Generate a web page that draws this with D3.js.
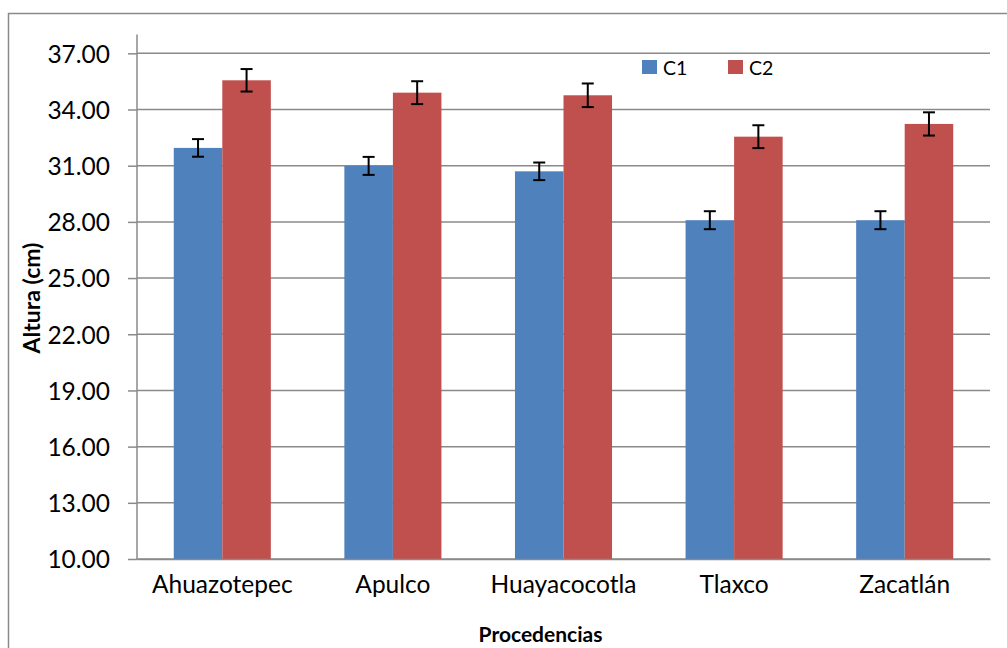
<!DOCTYPE html>
<html>
<head>
<meta charset="utf-8">
<script src="https://cdn.jsdelivr.net/npm/d3@7"></script>
<style>
  html, body { margin: 0; padding: 0; background: #fff; }
  svg { display: block; font-family: Lato, "Open Sans", sans-serif; }
</style>
</head>
<body>
<svg id="chart" width="1007" height="648"></svg>
<script>
const categories = ["Ahuazotepec", "Apulco", "Huayacocotla", "Tlaxco", "Zacatlán"];
const seriesNames = ["C1", "C2"];
const c1Values = [31.95, 30.99, 30.70, 28.09, 28.09];
const c2Values = [35.56, 34.90, 34.76, 32.55, 33.23];
const c1Errors = [0.47, 0.48, 0.47, 0.48, 0.48];
const c2Errors = [0.60, 0.61, 0.63, 0.61, 0.62];
const yTicks = [10, 13, 16, 19, 22, 25, 28, 31, 34, 37];

const colors = { C1: "#4F81BD", C2: "#C0504D" };
const gridColor = "#8a8a8a";
const font = "Lato, 'Open Sans', sans-serif";

const svg = d3.select("#chart");
const width = +svg.attr("width");
const height = +svg.attr("height");
const margin = { top: 34.6, right: 17, bottom: 89, left: 137 };
const innerW = width - margin.left - margin.right;
const innerH = height - margin.top - margin.bottom;

// outer chart border (runs off the right and bottom of the picture)
svg.append("path")
  .attr("d", `M8.5,${height}V13.5H${width}`)
  .attr("fill", "none")
  .attr("stroke", gridColor)
  .attr("stroke-width", 1.5);

const g = svg.append("g").attr("transform", `translate(${margin.left},${margin.top})`);

const rows = categories.map((cat, i) => ({
  cat,
  values: [
    { key: "C1", value: c1Values[i], err: c1Errors[i] },
    { key: "C2", value: c2Values[i], err: c2Errors[i] }
  ]
}));

const x0 = d3.scaleBand().domain(categories).range([0, innerW])
  .paddingInner(0.431).paddingOuter(0.2155);
const x1 = d3.scaleBand().domain(seriesNames).range([0, x0.bandwidth()]);
const y = d3.scaleLinear().domain([10, 38]).range([innerH, 0]);

// gridlines
g.append("g")
  .selectAll("line")
  .data(yTicks)
  .enter().append("line")
  .attr("x1", 0).attr("x2", innerW)
  .attr("y1", d => y(d)).attr("y2", d => y(d))
  .attr("stroke", gridColor)
  .attr("stroke-width", 1.5);

// y axis
const yAxis = g.append("g")
  .call(d3.axisLeft(y).tickValues(yTicks).tickSize(9).tickPadding(18).tickFormat(d3.format(".2f")))
  .attr("font-family", font);
yAxis.select(".domain").attr("stroke", gridColor).attr("stroke-width", 1.5).attr("d", `M-0,0V${innerH}`);
yAxis.selectAll(".tick line").attr("stroke", gridColor).attr("stroke-width", 1.5);
yAxis.selectAll("text").style("font-size", "24.5px").attr("fill", "#000").attr("dy", "0.36em");

// bars
const groups = g.selectAll(".grp")
  .data(rows)
  .enter().append("g")
  .attr("class", "grp")
  .attr("transform", d => `translate(${x0(d.cat)},0)`);

groups.selectAll("rect")
  .data(d => d.values)
  .enter().append("rect")
  .attr("x", d => x1(d.key))
  .attr("y", d => y(d.value))
  .attr("width", x1.bandwidth())
  .attr("height", d => innerH - y(d.value))
  .attr("fill", d => colors[d.key]);

// error bars
const errs = groups.selectAll(".err")
  .data(d => d.values)
  .enter().append("g")
  .attr("class", "err")
  .attr("stroke", "#000")
  .attr("stroke-width", 2);
errs.append("line")
  .attr("x1", d => x1(d.key) + x1.bandwidth() / 2)
  .attr("x2", d => x1(d.key) + x1.bandwidth() / 2)
  .attr("y1", d => y(d.value + d.err))
  .attr("y2", d => y(d.value - d.err));
errs.append("line")
  .attr("x1", d => x1(d.key) + x1.bandwidth() / 2 - 6)
  .attr("x2", d => x1(d.key) + x1.bandwidth() / 2 + 6)
  .attr("y1", d => y(d.value + d.err))
  .attr("y2", d => y(d.value + d.err));
errs.append("line")
  .attr("x1", d => x1(d.key) + x1.bandwidth() / 2 - 6)
  .attr("x2", d => x1(d.key) + x1.bandwidth() / 2 + 6)
  .attr("y1", d => y(d.value - d.err))
  .attr("y2", d => y(d.value - d.err));

// x axis
const xAxis = g.append("g")
  .attr("transform", `translate(0,${innerH})`)
  .call(d3.axisBottom(x0).tickSize(0).tickPadding(17))
  .attr("font-family", font);
xAxis.select(".domain").attr("stroke", gridColor).attr("stroke-width", 1.5);
xAxis.selectAll("text").style("font-size", "24.5px").attr("fill", "#000").attr("dy", "0.71em");

// axis titles
svg.append("text")
  .attr("transform", "translate(40,298) rotate(-90)")
  .attr("text-anchor", "middle")
  .style("font-size", "23px")
  .style("font-weight", "bold")
  .text("Altura (cm)");

svg.append("text")
  .attr("x", 540.5)
  .attr("y", 641.5)
  .attr("text-anchor", "middle")
  .style("font-size", "21px")
  .style("font-weight", "bold")
  .text("Procedencias");

// legend
const legend = svg.append("g").attr("transform", "translate(642,60)");
const legendItems = legend.selectAll("g")
  .data(seriesNames)
  .enter().append("g")
  .attr("transform", (d, i) => `translate(${i * 86},0)`);
legendItems.append("rect")
  .attr("width", 15).attr("height", 14)
  .attr("fill", d => colors[d]);
legendItems.append("text")
  .attr("x", 21).attr("y", 14.5)
  .style("font-size", "19.5px")
  .text(d => d);
</script>
</body>
</html>
